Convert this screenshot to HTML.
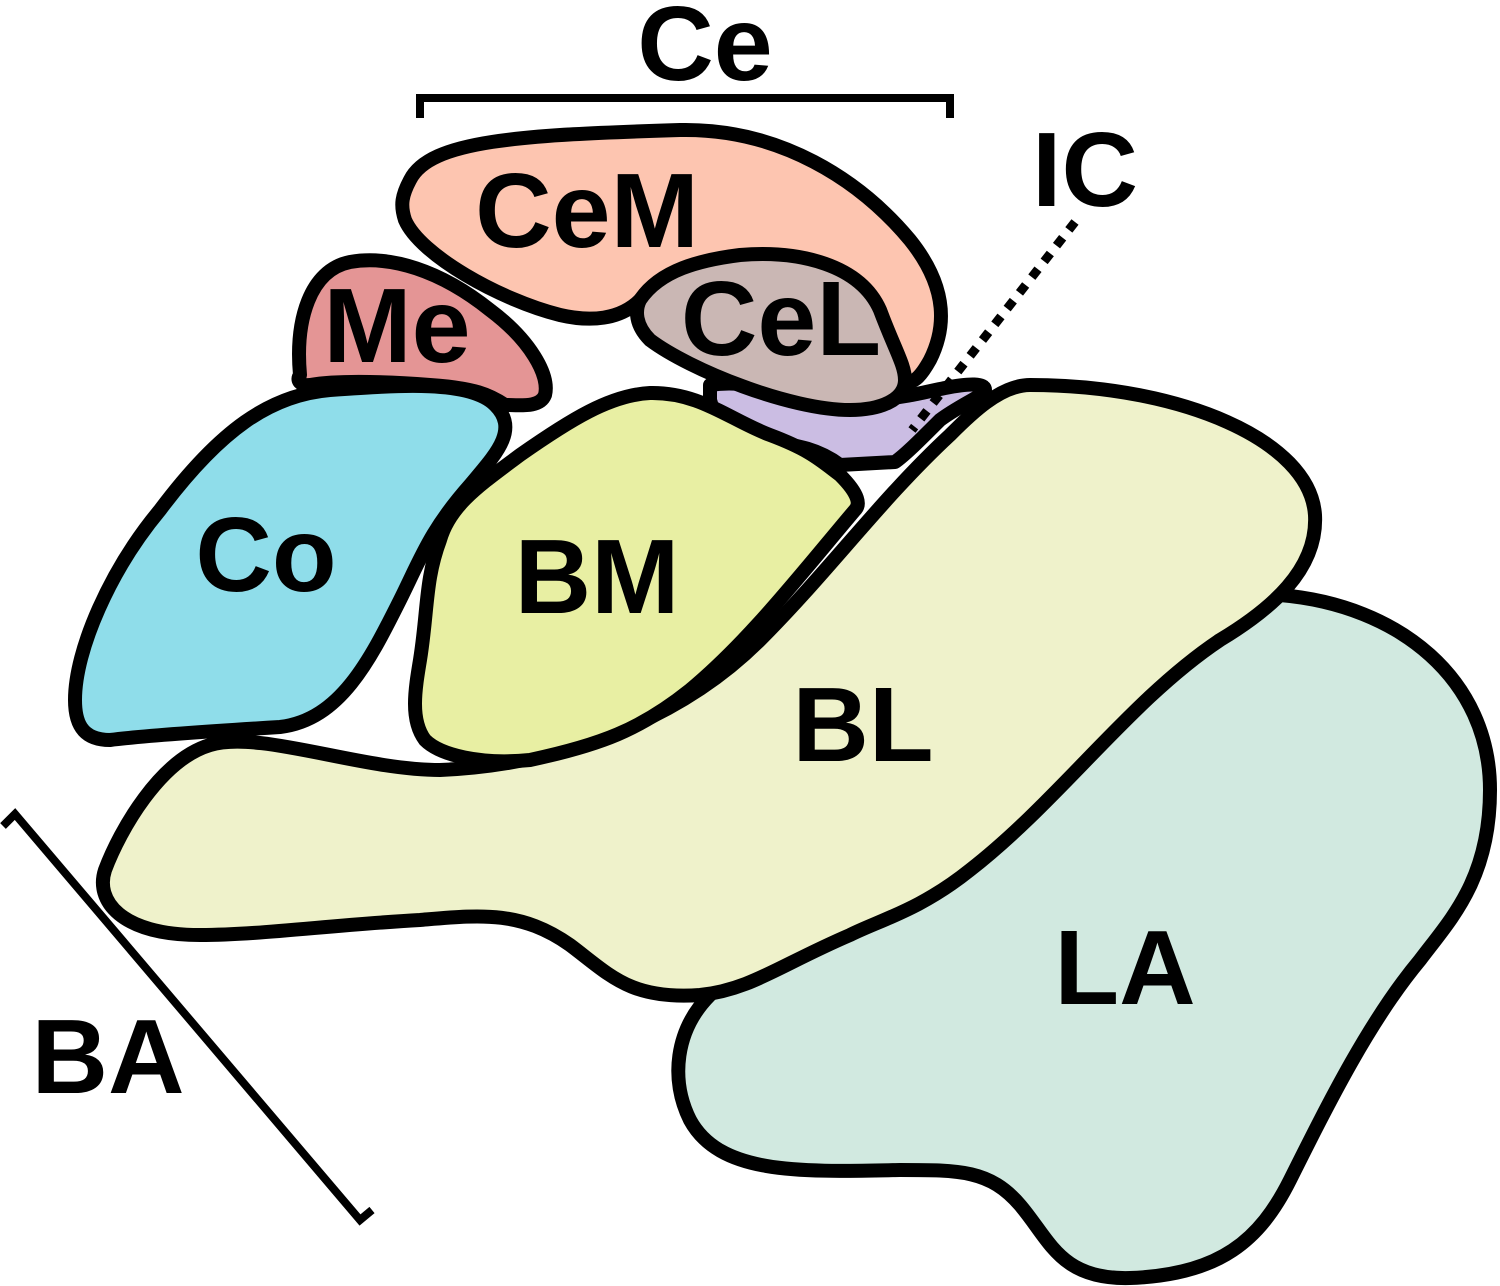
<!DOCTYPE html>
<html><head><meta charset="utf-8"><style>html,body{margin:0;padding:0;background:#fff}svg{display:block}</style></head>
<body>
<svg width="1500" height="1286" viewBox="0 0 1500 1286" xmlns="http://www.w3.org/2000/svg">
<g stroke="#000" stroke-width="14" stroke-linejoin="round">
<path fill="#D1E9E0" d="M1280,595 C1400,605 1490,680 1490,790 C1490,880 1450,920 1420,960 C1370,1020 1330,1100 1290,1180 C1260,1240 1220,1275 1130,1278 C1060,1280 1050,1240 1020,1205 C990,1170 960,1170 900,1170 C800,1172 720,1175 690,1120 C670,1080 675,1030 710,995 L900,800 Z"/>
<path fill="#EFF2CB" d="M1030,385 C1180,385 1310,440 1315,515 C1318,570 1270,610 1220,640 C1130,700 1060,800 970,870 C920,910 880,920 850,935 C780,965 750,990 700,995 C630,1000 610,975 570,945 C520,910 480,915 420,920 C330,925 260,935 200,935 C120,935 95,900 105,870 C120,830 160,760 210,745 C260,730 360,770 440,770 C560,765 680,720 760,640 C830,570 880,500 950,435 C970,415 1000,385 1030,385 Z"/>
<path fill="#CBBDE3" d="M710,385 C740,380 760,388 830,395 C880,405 910,395 945,388 C970,383 985,383 985,390 C985,395 960,405 940,420 C920,440 905,455 895,462 L840,465 C820,450 800,445 760,440 C730,435 715,420 710,400 Z"/>
<path fill="#E8EFA3" d="M440,540 C450,505 480,485 520,455 C570,420 610,395 650,393 C700,392 730,420 770,435 C810,450 820,460 840,475 C860,495 860,505 855,510 C800,575 750,640 690,690 C640,730 600,745 530,760 C480,765 440,755 425,740 C410,720 415,690 420,660 C428,610 425,580 440,540 Z"/>
<path fill="#8FDDEA" d="M330,390 C400,385 470,380 495,405 C520,430 495,455 470,485 C430,530 420,560 400,600 C370,660 340,720 280,727 C230,730 150,735 110,740 C80,740 75,720 75,700 C75,650 110,570 160,510 C220,430 270,395 330,390 Z"/>
<path fill="#E49595" d="M300,375 C295,320 310,270 350,262 C390,255 440,270 490,310 C530,340 550,375 545,395 C540,408 520,405 505,405 C490,395 475,388 430,385 C390,382 340,380 310,385 C300,386 296,380 300,375 Z"/>
<path fill="#FDC5B0" d="M410,180 C430,140 520,135 680,130 C780,128 860,180 910,240 C950,290 945,330 930,360 C920,378 912,385 905,380 C850,350 720,280 640,300 C620,320 590,322 560,315 C500,300 420,255 405,220 C400,205 402,195 410,180 Z"/>
<path fill="#CAB7B4" d="M640,300 C660,270 700,260 740,255 C800,250 860,265 880,310 C895,350 905,365 905,380 C905,400 880,410 850,410 C790,410 690,370 650,340 C635,325 635,310 640,300 Z"/>
</g>
<path d="M1075,222 L912,430" stroke="#000" stroke-width="9" stroke-dasharray="10 10" fill="none"/>
<path d="M420,118 L420,98 L950,98 L950,118" stroke="#000" stroke-width="8" fill="none"/>
<path d="M3,826 L15,814 L360,1220 L372,1210" stroke="#000" stroke-width="8" fill="none"/>
<g font-family="Liberation Sans, sans-serif" font-weight="bold" font-size="106" text-anchor="middle" fill="#000">
<text x="705" y="80">Ce</text>
<text x="587" y="247">CeM</text>
<text x="397" y="362">Me</text>
<text x="781" y="355">CeL</text>
<text x="266" y="591">Co</text>
<text x="597" y="613">BM</text>
<text x="863" y="761">BL</text>
<text x="1125" y="1004">LA</text>
<text x="1085" y="206">IC</text>
<text x="108" y="1093">BA</text>
</g>
</svg>
</body></html>
